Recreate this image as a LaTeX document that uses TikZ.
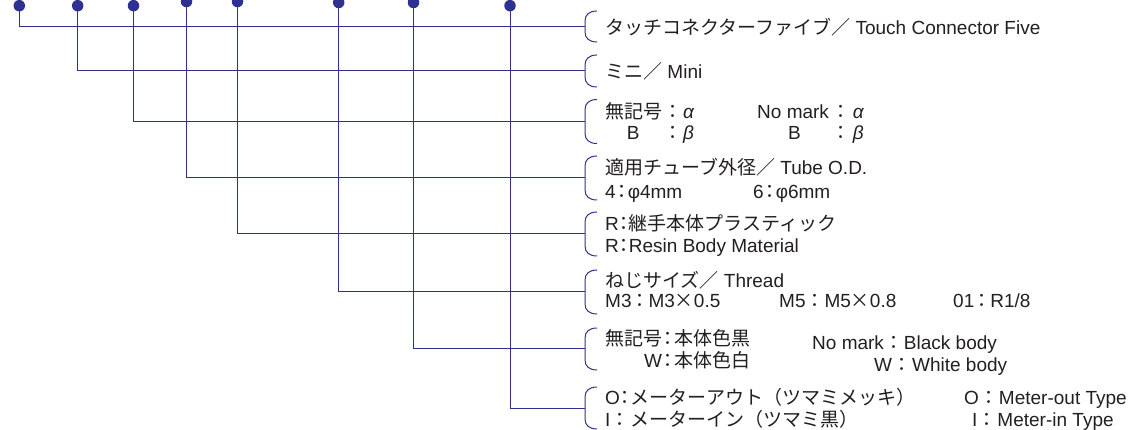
\documentclass[tikz,border=0pt]{standalone}
\usepackage{fontspec}
\setmainfont{Liberation Sans}
\newfontfamily\jpf{Noto Sans CJK JP}
\newcommand\jtx[1]{{\jpf #1}}
\newcommand\cn[1][19pt]{\makebox[#1][c]{\jpf ：}}
\definecolor{lc}{HTML}{2E3192}
\definecolor{tc}{HTML}{231F20}
\begin{document}
\begin{tikzpicture}[x=1pt,y=-1pt,
  ln/.style={draw=lc,line width=1pt},
  dot/.style={circle,fill=lc,inner sep=0pt,outer sep=0pt,minimum size=11.5pt},
  txt/.style={anchor=base west,inner sep=0pt,text=tc,font=\fontsize{19}{21}\selectfont}]
\useasboundingbox (0,0) rectangle (1133,430);
% dots
\node[dot] (d1) at (19.3,5.7) {};
\node[dot] (d2) at (77.7,5.7) {};
\node[dot] (d3) at (133.5,5.7) {};
\node[dot] (d4) at (186.5,1.5) {};
\node[dot] (d5) at (237.5,1.5) {};
\node[dot] (d6) at (338.7,2.5) {};
\node[dot] (d7) at (413.5,2.5) {};
\node[dot] (d8) at (510,5.7) {};
% brackets
\foreach \yy/\hh [count=\i] in {26.5/15.5,71/16,121.5/22,178/22,234/22,292/22,349/21,408/21} {
  \coordinate (b\i) at (585,\yy);
  \draw[ln] (597,\yy-\hh) .. controls (589,\yy-\hh) and (585,\yy-\hh+4) .. (585,\yy-\hh+10)
     -- (585,\yy+\hh-10) .. controls (585,\yy+\hh-4) and (589,\yy+\hh) .. (597,\yy+\hh);
}
% connectors
\foreach \i in {1,...,8} { \draw[ln] (d\i.center) |- (b\i); }
% texts
\node[txt] (t1) at (605,35) {\jtx{タッチコネクターファイブ／} Touch Connector Five};
\node[txt] (t2) at (605,78.5) {\jtx{ミニ／} Mini};
\node[txt] (t3a) at (605,118.5) {\jtx{無記号}\cn[21pt]\textit{α}};
\node[txt] (t3b) at (626.7,140) {B};
\node[txt] (t3c) at (662,140) {\cn[21pt]\textit{β}};
\node[txt] (t3d) at (757,118.5) {No mark\cn[24pt]\textit{α}};
\node[txt] (t3e) at (788,140) {B};
\node[txt] (t3f) at (828.6,140) {\cn[24pt]\textit{β}};
\node[txt] (t4a) at (605,175) {\jtx{適用チューブ外径／} Tube O.D.};
\node[txt] (t4b) at (605,198.5) {4\cn[12pt]φ4mm};
\node[txt] (t4c) at (753,198.5) {6\cn[12pt]φ6mm};
\node[txt] (t5a) at (605,230.5) {R\cn[10pt]\jtx{継手本体プラスティック}};
\node[txt] (t5b) at (605,253) {R\cn[10pt]Resin Body Material};
\node[txt] (t6a) at (605,287.5) {\jtx{ねじサイズ／} Thread};
\node[txt] (t6b) at (605,308) {M3\cn[17pt]M3\jtx{×}0.5};
\node[txt] (t6c) at (779,308) {M5\cn[19pt]M5\jtx{×}0.8};
\node[txt] (t6d) at (953,308) {01\cn[16pt]R1/8};
\node[txt] (t7a) at (605,345) {\jtx{無記号}\cn[12pt]\jtx{本体色黒}};
\node[txt] (t7b) at (644,367) {W\cn[12pt]\jtx{本体色白}};
\node[txt] (t7c) at (812,350) {No mark\cn[20pt]Black body};
\node[txt] (t7d) at (874,372) {W\cn[20pt]White body};
\node[txt] (t8a) at (605,404) {O\cn[11pt]\jtx{メーターアウト（ツマミメッキ）}};
\node[txt] (t8b) at (605,426) {I\cn[20pt]\jtx{メーターイン（ツマミ黒）}};
\node[txt] (t8c) at (964,404) {O\cn[20pt]Meter-out Type};
\node[txt] (t8d) at (972,426) {I\cn[20pt]Meter-in Type};
\end{tikzpicture}
\end{document}
